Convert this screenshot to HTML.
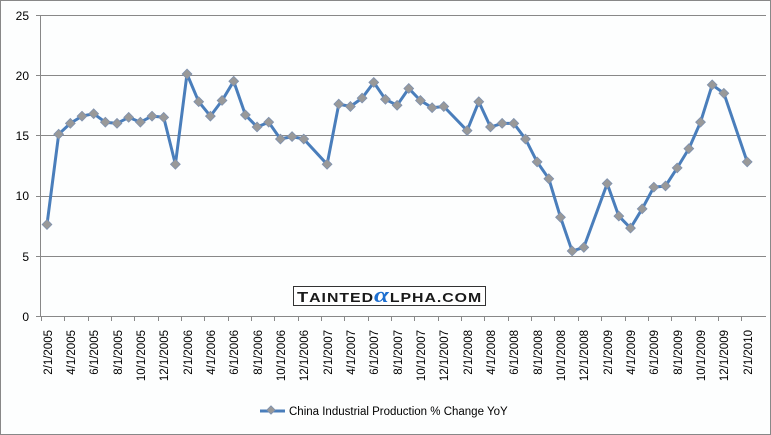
<!DOCTYPE html>
<html><head><meta charset="utf-8"><style>
html,body{margin:0;padding:0;background:#fff}
svg{display:block;font-family:"Liberation Sans",sans-serif}
</style></head><body>
<svg id="s" width="771" height="435" viewBox="0 0 771 435" xmlns="http://www.w3.org/2000/svg">
<rect x="0.5" y="0.5" width="770" height="434" fill="#fdfefe" stroke="#888"/>
<g stroke="#888" stroke-width="1">
<line x1="36" y1="15.5" x2="766" y2="15.5"/>
<line x1="36" y1="75.5" x2="766" y2="75.5"/>
<line x1="36" y1="135.5" x2="766" y2="135.5"/>
<line x1="36" y1="196.5" x2="766" y2="196.5"/>
<line x1="36" y1="256.5" x2="766" y2="256.5"/>
<line x1="36" y1="316.5" x2="766" y2="316.5"/>
<line x1="40.5" y1="15" x2="40.5" y2="316"/>
</g>
<g font-size="12" text-anchor="end" fill="#000">
<text x="29" y="20">25</text><text x="29" y="80">20</text><text x="29" y="140">15</text>
<text x="29" y="200">10</text><text x="29" y="261">5</text><text x="29" y="321">0</text>
</g>
<g id="ticks" stroke="#888"></g>
<g font-size="11.5" fill="#000" id="lbl">
<text transform="translate(52,330) rotate(-90)" text-anchor="end">2/1/2005</text>
<text transform="translate(75,330) rotate(-90)" text-anchor="end">4/1/2005</text>
<text transform="translate(98,330) rotate(-90)" text-anchor="end">6/1/2005</text>
<text transform="translate(122,330) rotate(-90)" text-anchor="end">8/1/2005</text>
<text transform="translate(145,330) rotate(-90)" text-anchor="end">10/1/2005</text>
<text transform="translate(168,330) rotate(-90)" text-anchor="end">12/1/2005</text>
<text transform="translate(192,330) rotate(-90)" text-anchor="end">2/1/2006</text>
<text transform="translate(215,330) rotate(-90)" text-anchor="end">4/1/2006</text>
<text transform="translate(238,330) rotate(-90)" text-anchor="end">6/1/2006</text>
<text transform="translate(262,330) rotate(-90)" text-anchor="end">8/1/2006</text>
<text transform="translate(285,330) rotate(-90)" text-anchor="end">10/1/2006</text>
<text transform="translate(308,330) rotate(-90)" text-anchor="end">12/1/2006</text>
<text transform="translate(332,330) rotate(-90)" text-anchor="end">2/1/2007</text>
<text transform="translate(355,330) rotate(-90)" text-anchor="end">4/1/2007</text>
<text transform="translate(378,330) rotate(-90)" text-anchor="end">6/1/2007</text>
<text transform="translate(402,330) rotate(-90)" text-anchor="end">8/1/2007</text>
<text transform="translate(425,330) rotate(-90)" text-anchor="end">10/1/2007</text>
<text transform="translate(448,330) rotate(-90)" text-anchor="end">12/1/2007</text>
<text transform="translate(472,330) rotate(-90)" text-anchor="end">2/1/2008</text>
<text transform="translate(495,330) rotate(-90)" text-anchor="end">4/1/2008</text>
<text transform="translate(518,330) rotate(-90)" text-anchor="end">6/1/2008</text>
<text transform="translate(542,330) rotate(-90)" text-anchor="end">8/1/2008</text>
<text transform="translate(565,330) rotate(-90)" text-anchor="end">10/1/2008</text>
<text transform="translate(588,330) rotate(-90)" text-anchor="end">12/1/2008</text>
<text transform="translate(612,330) rotate(-90)" text-anchor="end">2/1/2009</text>
<text transform="translate(635,330) rotate(-90)" text-anchor="end">4/1/2009</text>
<text transform="translate(658,330) rotate(-90)" text-anchor="end">6/1/2009</text>
<text transform="translate(682,330) rotate(-90)" text-anchor="end">8/1/2009</text>
<text transform="translate(705,330) rotate(-90)" text-anchor="end">10/1/2009</text>
<text transform="translate(728,330) rotate(-90)" text-anchor="end">12/1/2009</text>
<text transform="translate(752,330) rotate(-90)" text-anchor="end">2/1/2010</text>
</g>
<rect x="293.5" y="286.5" width="192" height="19" fill="#fff" stroke="#333"/>
<g transform="translate(297,302) scale(1.22,1)">
<text x="0" y="0" font-size="15" font-weight="bold" fill="#1a1a1a" textLength="151" lengthAdjust="spacing">T<tspan font-size="13">AINTED</tspan><tspan font-size="22" fill="#1e6fd0" font-family="Liberation Serif,serif" font-style="italic">α</tspan><tspan font-size="13">LPHA.COM</tspan></text>
</g>
<polyline id="ln" fill="none" stroke="#4a7ebb" stroke-width="3" stroke-linejoin="round"/>
<g id="mk"></g>
<line x1="260" y1="411" x2="285" y2="411" stroke="#4a7ebb" stroke-width="3"/>
<rect x="268" y="407" width="6" height="6" transform="rotate(45 271 410)" fill="#999" stroke="#7a8fb0" stroke-width="0.7"/>
<text x="289" y="415" font-size="11.5" fill="#000">China Industrial Production % Change YoY</text>
</svg>
<script>
var d={0:7.6,1:15.1,2:16.0,3:16.6,4:16.8,5:16.1,6:16.0,7:16.5,8:16.1,9:16.6,10:16.5,11:12.6,12:20.1,13:17.8,14:16.6,15:17.9,16:19.5,17:16.7,18:15.7,19:16.1,20:14.7,21:14.9,22:14.7,24:12.6,25:17.6,26:17.4,27:18.1,28:19.4,29:18.0,30:17.5,31:18.9,32:17.9,33:17.3,34:17.4,36:15.4,37:17.8,38:15.7,39:16.0,40:16.0,41:14.7,42:12.8,43:11.4,44:8.2,45:5.4,46:5.7,48:11.0,49:8.3,50:7.3,51:8.9,52:10.7,53:10.8,54:12.3,55:13.9,56:16.1,57:19.2,58:18.5,60:12.8};
var pts=[],mk='',tk='';
for(var i=0;i<=60;i++){if(d[i]===undefined)continue;var x=47+i*11.67,y=316-d[i]*12.04;pts.push(x.toFixed(1)+','+y.toFixed(1));
mk+='<rect x="'+(x-3.5)+'" y="'+(y-3.5)+'" width="7" height="7" transform="rotate(45 '+x+' '+y+')" fill="#999" stroke="#7a8fb0" stroke-width="0.7"/>';}
for(var k=0;k<=30;k++){var tx=Math.round(41+k*23.34)+0.5;tk+='<line x1="'+tx+'" y1="316" x2="'+tx+'" y2="321"/>';}
document.getElementById('ln').setAttribute('points',pts.join(' '));
document.getElementById('mk').innerHTML=mk;
document.getElementById('ticks').innerHTML=tk;
</script>
</body></html>
